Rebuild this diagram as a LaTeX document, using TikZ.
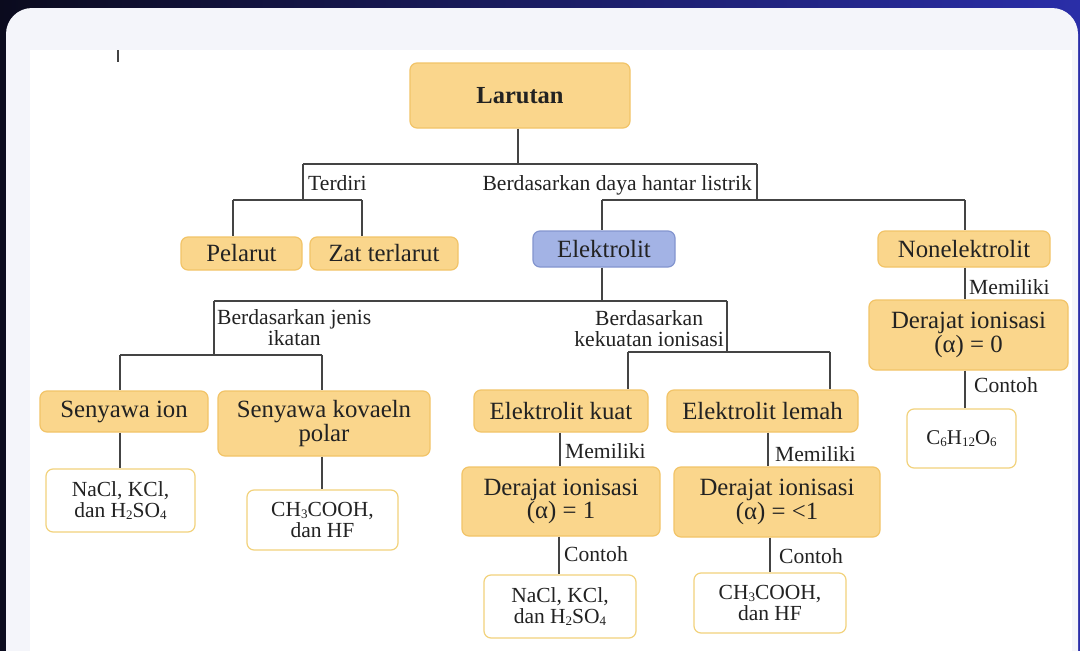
\documentclass[tikz,border=0pt]{standalone}
\usepackage{fontspec}
\setmainfont{Liberation Serif}
\definecolor{bgL}{HTML}{0B0B1E}
\definecolor{bgR}{HTML}{2A2EA8}
\definecolor{card}{HTML}{F4F5FA}
\definecolor{ofill}{HTML}{FAD68C}
\definecolor{odraw}{HTML}{F2C468}
\definecolor{bfill}{HTML}{A3B3E5}
\definecolor{bdraw}{HTML}{8395CF}
\definecolor{wdraw}{HTML}{F2D27C}
\definecolor{txt}{HTML}{222222}
\definecolor{ln}{HTML}{444444}
\newcommand\chs[1]{\raisebox{-0.25ex}{\fontsize{13}{13}\selectfont #1}}
\tikzset{
  obox/.style={draw=odraw, fill=ofill, line width=1.2pt, rounded corners=7pt, align=center, text=txt, font=\fontsize{24.8}{22}\selectfont, inner sep=0pt},
  bbox/.style={obox, draw=bdraw, fill=bfill},
  wbox/.style={draw=wdraw, fill=white, line width=1.2pt, rounded corners=7pt, align=center, text=txt, font=\fontsize{21.5}{21}\selectfont, inner sep=0pt},
  lbl/.style={text=txt, font=\fontsize{21.6}{21}\selectfont, align=center, inner sep=2pt},
  conn/.style={draw=ln, line width=1.4pt},
}
\begin{document}
\begin{tikzpicture}[x=1pt,y=-1pt]
\useasboundingbox (0,0) rectangle (1080,651);
\clip (0,0) rectangle (1080,651);
\shade[left color=bgL, right color=bgR] (0,0) rectangle (1080,651);
\fill[card, rounded corners=26pt] (6,8) rectangle (1078,700);
\fill[white] (30,50) rectangle (1072,651);
\draw[ln, line width=1.2pt] (118,50) -- (118,62);

% nodes
\node[obox, font=\fontsize{24.5}{24}\selectfont\bfseries, minimum width=220pt, minimum height=65pt] (lar) at (520,95.5) {Larutan};
\node[obox, minimum width=121pt, minimum height=33pt] (pel) at (241.5,253.5) {Pelarut};
\node[obox, minimum width=148pt, minimum height=33pt] (zat) at (384,253.5) {Zat terlarut};
\node[bbox, minimum width=142pt, minimum height=36pt] (ele) at (604,249) {Elektrolit};
\node[obox, minimum width=172pt, minimum height=36pt] (non) at (964,249) {Nonelektrolit};
\node[obox, minimum width=168pt, minimum height=41pt] (sion) at (124,411.5) {Senyawa ion};
\node[obox, minimum width=212pt, minimum height=65pt] (skov) at (324,423.5) {Senyawa kovaeln\\polar};
\node[obox, minimum width=174pt, minimum height=42pt] (ekuat) at (561,411) {Elektrolit kuat};
\node[obox, minimum width=191pt, minimum height=42pt] (elem) at (762.5,411) {Elektrolit lemah};
\node[obox, minimum width=198pt, minimum height=69pt] (d1) at (561,501.5) {Derajat ionisasi\\(α) = 1};
\node[obox, minimum width=206pt, minimum height=70pt] (d2) at (777,502) {Derajat ionisasi\\(α) = <1};
\node[obox, minimum width=199pt, minimum height=70pt] (d0) at (968.5,335) {Derajat ionisasi\\(α) = 0};
\node[wbox, minimum width=149pt, minimum height=63pt] (ex1) at (120.5,500.5) {NaCl, KCl,\\dan H\chs{2}SO\chs{4}};
\node[wbox, minimum width=151pt, minimum height=60pt] (ex2) at (322.5,520) {CH\chs{3}COOH,\\dan HF};
\node[wbox, minimum width=152pt, minimum height=63pt] (ex3) at (560,606.5) {NaCl, KCl,\\dan H\chs{2}SO\chs{4}};
\node[wbox, minimum width=152pt, minimum height=60pt] (ex4) at (770,603) {CH\chs{3}COOH,\\dan HF};
\node[wbox, font=\fontsize{21}{21}\selectfont, minimum width=109pt, minimum height=59pt] (ex5) at (961.5,438.5) {C\chs{6}H\chs{12}O\chs{6}};

% junction coordinates
\coordinate (t0) at (518,164);
\coordinate (h1l) at (303,164);
\coordinate (h1r) at (757,164);
\coordinate (b1a) at (233,200);
\coordinate (b1b) at (362,200);
\coordinate (b2a) at (602,200);
\coordinate (b2b) at (965,200);
\coordinate (h2l) at (214,301);
\coordinate (h2r) at (727,301);
\coordinate (b3a) at (120,355);
\coordinate (b3b) at (322,355);
\coordinate (b4a) at (628,352);
\coordinate (b4b) at (830,352);
\coordinate (v1) at (768,432);
\coordinate (v2) at (965,370);
\coordinate (v3) at (560,432);
\coordinate (v4) at (559,536);

% connectors
\draw[conn] (t0 |- lar.south) -- (t0);
\draw[conn] (h1l) -- (h1r);
\draw[conn] (h1l) -- (h1l |- b1a);
\draw[conn] (b1a) -- (b1b);
\draw[conn] (b1a) -- (b1a |- pel.north);
\draw[conn] (b1b) -- (b1b |- zat.north);
\draw[conn] (h1r) -- (h1r |- b2a);
\draw[conn] (b2a) -- (b2b);
\draw[conn] (b2a) -- (b2a |- ele.north);
\draw[conn] (b2b) -- (b2b |- non.north);
\draw[conn] (b2a |- ele.south) -- (b2a |- h2l);
\draw[conn] (h2l) -- (h2r);
\draw[conn] (h2l) -- (h2l |- b3a);
\draw[conn] (b3a) -- (b3b);
\draw[conn] (b3a) -- (b3a |- sion.north);
\draw[conn] (b3b) -- (b3b |- skov.north);
\draw[conn] (h2r) -- (h2r |- b4a);
\draw[conn] (b4a) -- (b4b);
\draw[conn] (b4a) -- (b4a |- ekuat.north);
\draw[conn] (b4b) -- (b4b |- elem.north);
\draw[conn] (b3a |- sion.south) -- (b3a |- ex1.north);
\draw[conn] (b3b |- skov.south) -- (b3b |- ex2.north);
\draw[conn] (v3 |- ekuat.south) -- (v3 |- d1.north);
\draw[conn] (v4 |- d1.south) -- (v4 |- ex3.north);
\draw[conn] (v1 |- elem.south) -- (v1 |- d2.north);
\draw[conn] (ex4.north |- d2.south) -- (ex4.north);
\draw[conn] (b2b |- non.south) -- (b2b |- d0.north);
\draw[conn] (v2 |- d0.south) -- (v2 |- ex5.north);

% labels
\node[lbl, anchor=west] (l1) at (306,183) {Terdiri};
\node[lbl, anchor=east] (l2) at (754,185) {Berdasarkan daya hantar listrik};
\node[lbl, anchor=west] (l3) at (215,328) {Berdasarkan jenis\\ikatan};
\node[lbl, anchor=east] (l4) at (726,329) {Berdasarkan\\kekuatan ionisasi};
\node[lbl, anchor=west] (l5) at (563,451) {Memiliki};
\node[lbl, anchor=west] (l6) at (562,554) {Contoh};
\node[lbl, anchor=west] (l7) at (773,454) {Memiliki};
\node[lbl, anchor=west] (l8) at (777,556) {Contoh};
\node[lbl, anchor=west] (l9) at (967,287) {Memiliki};
\node[lbl, anchor=west] (l10) at (972,385) {Contoh};
\end{tikzpicture}
\end{document}
